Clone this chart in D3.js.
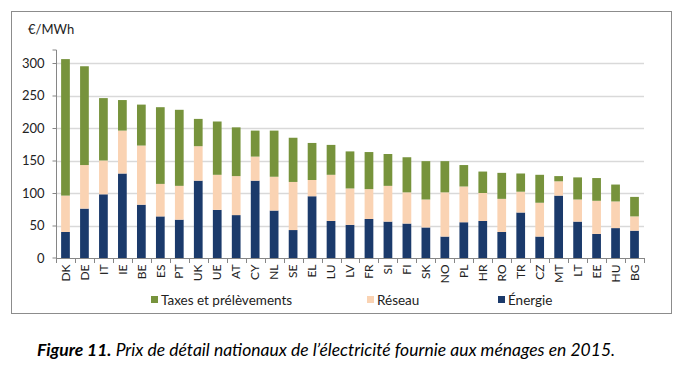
<!DOCTYPE html>
<html><head><meta charset="utf-8">
<script src="https://cdn.jsdelivr.net/npm/d3@7"></script>
<style>body{margin:0;background:#fff}svg{display:block}</style>
</head><body>
<svg id="c" width="683" height="368"></svg>
<script>
const countries = ["DK","DE","IT","IE","BE","ES","PT","UK","UE","AT","CY","NL","SE","EL","LU","LV","FR","SI","FI","SK","NO","PL","HR","RO","TR","CZ","MT","LT","EE","HU","BG"];
const energie = [40,76,98,130,82,64,59,119,74,66,119,73,43,95,57,51,60,56,53,47,33,55,57,40,70,33,96,56,37,46,42];
const reseau  = [56,67,52,66,91,50,52,53,54,60,37,52,74,25,71,56,46,55,48,43,68,55,43,51,32,52,22,34,51,41,22];
const taxes   = [210,152,96,47,63,118,117,42,82,75,40,71,68,57,46,57,57,49,54,59,48,33,33,40,28,43,8,34,35,26,30];
const seriesNames = ["Énergie","Réseau","Taxes et prélèvements"];
const legendOrder = ["Taxes et prélèvements","Réseau","Énergie"];
const colors = {"Énergie":"#1B3A6B","Réseau":"#FAD3B3","Taxes et prélèvements":"#77933C"};
const yTicks = [0,50,100,150,200,250,300];

const svg = d3.select("#c");
const font = "Lato, 'Open Sans', sans-serif";
const m = {l:56, r:644, t:50, b:258};

svg.append("rect").attr("x",11.5).attr("y",11.5).attr("width",660).attr("height",302)
  .attr("fill","none").attr("stroke","#8c8c8c");

const x = d3.scaleBand().domain(countries).range([m.l, m.r]).paddingInner(0.54).paddingOuter(0.27);
const y = d3.scaleLinear().domain([0,320]).range([m.b, m.t]);

svg.append("g").selectAll("line").data(yTicks.slice(1)).join("line")
  .attr("x1",m.l).attr("x2",m.r).attr("y1",d=>Math.round(y(d))+0.5).attr("y2",d=>Math.round(y(d))+0.5)
  .attr("stroke","#d9d9d9").attr("stroke-width",1.5);

const rows = countries.map((c,i)=>({c, "Énergie":energie[i], "Réseau":reseau[i], "Taxes et prélèvements":taxes[i]}));
const stack = d3.stack().keys(seriesNames)(rows);
svg.append("g").selectAll("g").data(stack).join("g").attr("fill",d=>colors[d.key])
  .selectAll("rect").data(d=>d).join("rect")
  .attr("x",d=>x(d.data.c)).attr("width",x.bandwidth())
  .attr("y",d=>y(d[1])).attr("height",d=>y(d[0])-y(d[1]));

const ya = svg.append("g").attr("transform",`translate(${m.l+0.5},0)`)
  .call(d3.axisLeft(y).tickValues(yTicks).tickSize(4).tickPadding(8));
ya.select(".domain").attr("stroke","#868686").attr("d",`M-4,${y(320)}H0V${m.b}H-4`);
ya.selectAll(".tick line").attr("stroke","#868686");
ya.selectAll("text").attr("font-family",font).attr("font-size",13).attr("fill","#222");
ya.selectAll(".tick").filter(d=>d===0).select("line").remove();

const xa = svg.append("g").attr("transform",`translate(0,${m.b+0.5})`)
  .call(d3.axisBottom(x).tickSize(0).tickPadding(0));
xa.select(".domain").attr("stroke","#868686").attr("d",`M${m.l},0H${m.r}`);
xa.selectAll(".tick text").attr("font-family",font).attr("font-size",12).attr("fill","#222")
  .attr("transform","rotate(-90)").attr("text-anchor","end").attr("dy","0.35em").attr("x",-6).attr("y",0);
svg.append("g").selectAll("line").data(d3.range(countries.length+1)).join("line")
  .attr("x1",i=>Math.round(m.l+i*(m.r-m.l)/countries.length)+0.5).attr("x2",i=>Math.round(m.l+i*(m.r-m.l)/countries.length)+0.5)
  .attr("y1",m.b).attr("y2",m.b+5).attr("stroke","#868686");

svg.append("text").attr("x",28).attr("y",34).text("€/MWh")
  .attr("font-family",font).attr("font-size",13).attr("fill","#222");

const legX = [151,367,498];
const lg = svg.append("g").selectAll("g").data(legendOrder).join("g")
  .attr("transform",(d,i)=>`translate(${legX[i]},300)`);
lg.append("rect").attr("x",0).attr("y",-4).attr("width",7).attr("height",7).attr("fill",d=>colors[d]);
lg.append("text").attr("x",10).attr("y",0).attr("dy","0.35em").text(d=>d)
  .attr("font-family",font).attr("font-size",13.5).attr("fill","#222");

const cap = svg.append("text").attr("x",37).attr("y",356).attr("font-family",font).attr("font-size",17.5).attr("font-style","italic").attr("fill","#000");
cap.append("tspan").attr("font-weight","bold").text("Figure 11.");
cap.append("tspan").text(" Prix de détail nationaux de l’électricité fournie aux ménages en 2015.");
</script>
</body></html>
